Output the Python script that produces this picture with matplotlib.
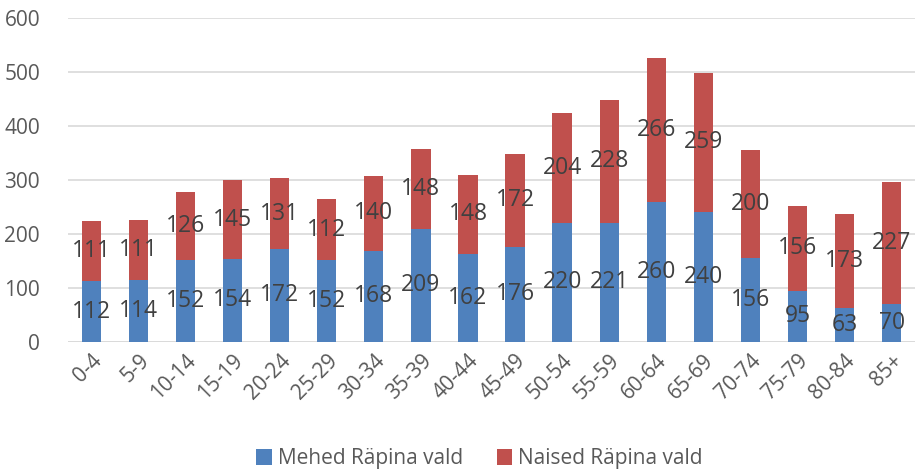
import matplotlib.pyplot as plt
import numpy as np

plt.rcParams['font.family'] = ['Open Sans', 'DejaVu Sans']

groups = ['0-4', '5-9', '10-14', '15-19', '20-24', '25-29', '30-34', '35-39', '40-44',
          '45-49', '50-54', '55-59', '60-64', '65-69', '70-74', '75-79', '80-84', '85+']
mehed = [112, 114, 152, 154, 172, 152, 168, 209, 162, 176, 220, 221, 260, 240, 156, 95, 63, 70]
naised = [111, 111, 126, 145, 131, 112, 140, 148, 148, 172, 204, 228, 266, 259, 200, 156, 173, 227]

blue = '#4F81BD'
red = '#C0504D'

fig = plt.figure(figsize=(9.17, 4.76), dpi=100)
ax = fig.add_axes([0.074, 0.282, 0.924, 0.68])

x = np.arange(len(groups))
b1 = ax.bar(x, mehed, width=0.41, color=blue, label='Mehed Räpina vald', zorder=3)
b2 = ax.bar(x, naised, width=0.41, bottom=mehed, color=red, label='Naised Räpina vald', zorder=3)

for i in range(len(groups)):
    ax.text(x[i], mehed[i] / 2, str(mehed[i]), ha='center', va='center',
            fontsize=16.5, color='#404040', zorder=4)
    ax.text(x[i], mehed[i] + naised[i] / 2, str(naised[i]), ha='center', va='center',
            fontsize=16.5, color='#404040', zorder=4)

ax.set_xlim(-0.5, len(groups) - 0.5)
ax.set_ylim(0, 600)
ax.set_yticks(range(0, 601, 100))
ax.yaxis.grid(True, color='#D9D9D9', linewidth=1.2, zorder=0)
ax.set_xticks(x)
ax.set_xticklabels(groups, rotation=45, ha='right', rotation_mode='anchor')
ax.tick_params(axis='both', length=0, labelsize=15, colors='#595959')
ax.tick_params(axis='y', pad=20)
ax.tick_params(axis='x', pad=6)
for s in ax.spines.values():
    s.set_visible(False)
ax.axhline(0, color='#D9D9D9', linewidth=1.2, zorder=2)

fig.legend(handles=[b1, b2], loc='lower center', bbox_to_anchor=(0.523, -0.025), ncol=2,
           frameon=False, fontsize=15, handlelength=0.75, handleheight=0.75,
           columnspacing=1.6, handletextpad=0.3, labelcolor='#595959')

fig.savefig('out.png', dpi=100)
